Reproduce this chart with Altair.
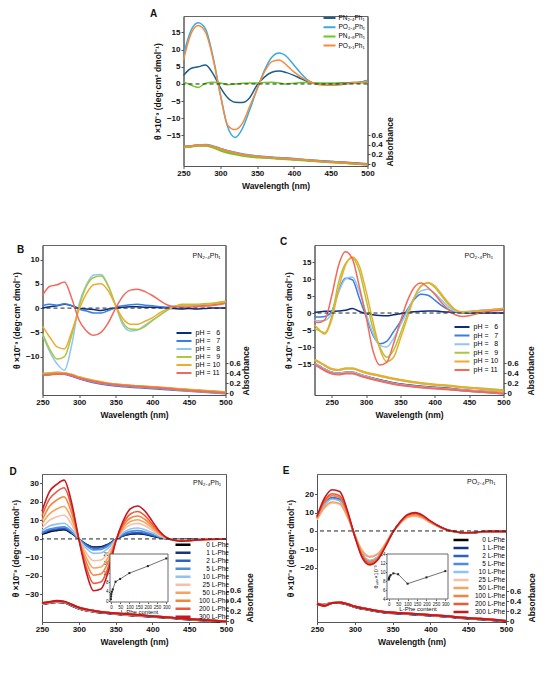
import altair as alt
import pandas as pd

FONT = "Liberation Sans"
FIG = "\u2007"

# ---------------- Panel A ----------------
A_W = [250, 260, 270, 280, 290, 300, 310, 320, 330, 340, 350, 360, 370, 380, 390, 400, 410, 420, 430, 440, 450, 460, 470, 480, 490, 500]
A_NAMES = ["PN₂.₄Ph₁", "PO₂.₄Ph₁", "PN₄.₈Ph₁", "PO₃.₁Ph₁"]
A_COLORS = ["#1b5e8c", "#35ade2", "#66cc22", "#f7893b"]
A_PN24 = [2.5, 4.5, 5.0, 5.5, 3.0, -1.0, -4.0, -5.3, -5.4, -4.0, -0.3, 2.0, 3.4, 3.8, 3.3, 2.5, 1.5, 0.6, 0.2, 0.1, 0.1, 0.2, 0.3, 0.4, 0.5, 1.0]
A_PO24 = [8.5, 15.5, 17.8, 16.0, 8.0, -3.0, -12.5, -15.6, -13.0, -7.5, -1.5, 4.0, 7.8, 9.0, 8.0, 5.5, 3.0, 1.0, 0.0, -0.2, -0.3, -0.2, 0.0, 0.3, 0.5, 1.0]
A_PN48 = [0.6, -0.3, -1.0, 0.2, 0.5, 0.3, -0.2, 0.0, 0.2, 0.3, 0.3, 0.4, 0.5, 0.3, 0.0, 0.2, 0.4, 0.4, 0.3, 0.2, 0.2, 0.2, 0.2, 0.2, 0.3, 0.4]
A_PO31 = [7.0, 14.5, 17.0, 15.0, 7.5, -3.0, -12.0, -13.3, -11.5, -6.5, -1.5, 3.5, 6.5, 7.0, 5.5, 3.5, 2.0, 0.8, 0.0, -0.3, -0.3, -0.2, 0.0, 0.3, 0.5, 0.8]

ABS_W = [250, 260, 270, 280, 290, 300, 320, 340, 360, 380, 400, 420, 440, 460, 480, 500]
A_ABS_PN24 = [0.36, 0.37, 0.39, 0.39, 0.36, 0.31, 0.23, 0.17, 0.14, 0.12, 0.10, 0.08, 0.06, 0.04, 0.02, 0.00]
A_ABS_PO24 = [0.36, 0.37, 0.39, 0.40, 0.37, 0.32, 0.24, 0.18, 0.15, 0.13, 0.11, 0.08, 0.06, 0.04, 0.01, -0.01]
A_ABS_PN48 = [0.35, 0.36, 0.38, 0.38, 0.34, 0.28, 0.20, 0.15, 0.13, 0.11, 0.09, 0.07, 0.05, 0.03, 0.01, -0.01]
A_ABS_PO31 = [0.36, 0.37, 0.39, 0.39, 0.36, 0.31, 0.23, 0.17, 0.14, 0.12, 0.10, 0.08, 0.05, 0.03, 0.01, -0.01]

# ---------------- Panels B / C ----------------
PH_NAMES = ["pH = " + FIG + "6", "pH = " + FIG + "7", "pH = " + FIG + "8", "pH = " + FIG + "9", "pH = 10", "pH = 11"]
PH_COLORS = ["#0a2d80", "#3a7ee0", "#8dc6f7", "#a9c93b", "#f0aa2e", "#f4695b"]

B_PH6 = [0.0, 0.3, 0.5, 0.8, 0.5, 0.0, -0.2, -0.3, -0.5, -0.2, 0.0, 0.2, 0.3, 0.3, 0.2, 0.2, 0.1, 0.0, -0.1, -0.2, -0.1, -0.2, -0.1, 0.0, 0.0, 0.0]
B_PH7 = [0.5, 0.8, 0.6, 0.9, 0.5, -0.2, -0.6, -1.0, -1.0, -0.5, 0.2, 0.5, 0.7, 0.8, 0.6, 0.5, 0.3, 0.2, 0.4, 0.5, 0.5, 0.6, 0.6, 0.7, 0.9, 1.0]
B_PH8 = [-5.5, -9.0, -11.5, -12.8, -7.5, 0.8, 4.8, 6.8, 6.9, 4.5, 0.5, -3.5, -4.7, -4.5, -3.5, -2.5, -1.5, -0.5, 0.3, 0.6, 0.7, 0.7, 0.8, 0.9, 1.1, 1.3]
B_PH9 = [-5.2, -8.5, -10.5, -10.0, -5.5, 0.3, 4.5, 6.3, 6.6, 4.5, 0.5, -3.0, -4.3, -4.4, -3.8, -2.6, -1.5, -0.4, 0.3, 0.8, 0.8, 0.8, 0.9, 1.0, 1.2, 1.4]
B_PH10 = [-3.7, -6.0, -8.0, -8.4, -4.8, -0.3, 3.0, 4.8, 5.0, 3.5, 0.5, -2.2, -3.3, -3.3, -2.7, -2.0, -1.0, -0.2, 0.3, 0.6, 0.6, 0.7, 0.7, 0.8, 1.0, 1.2]
B_PH11 = [2.6, 4.5, 4.8, 5.4, 2.0, -2.5, -4.7, -5.6, -5.0, -3.0, 0.0, 2.5, 3.7, 3.9, 3.4, 2.6, 1.6, 0.7, 0.3, 0.2, 0.2, 0.3, 0.4, 0.5, 0.7, 1.0]

B_ABS6 = [0.37, 0.38, 0.40, 0.39, 0.35, 0.30, 0.23, 0.18, 0.15, 0.13, 0.11, 0.09, 0.07, 0.05, 0.03, 0.01]
B_ABS7 = [0.36, 0.37, 0.39, 0.38, 0.34, 0.29, 0.21, 0.16, 0.13, 0.11, 0.09, 0.07, 0.05, 0.03, 0.01, -0.01]
B_ABS8 = [0.38, 0.39, 0.41, 0.40, 0.36, 0.31, 0.23, 0.18, 0.15, 0.13, 0.11, 0.09, 0.06, 0.04, 0.02, 0.00]
B_ABS9 = [0.39, 0.40, 0.41, 0.40, 0.37, 0.32, 0.25, 0.19, 0.16, 0.14, 0.12, 0.10, 0.08, 0.06, 0.04, 0.02]
B_ABS10 = [0.37, 0.38, 0.40, 0.39, 0.36, 0.31, 0.24, 0.19, 0.16, 0.14, 0.12, 0.10, 0.07, 0.05, 0.03, 0.01]
B_ABS11 = [0.36, 0.37, 0.38, 0.38, 0.35, 0.30, 0.23, 0.18, 0.15, 0.13, 0.11, 0.09, 0.06, 0.04, 0.02, 0.00]

C_W = [225, 230, 240, 250, 260, 270, 280, 290, 300, 310, 320, 330, 340, 350, 360, 370, 380, 390, 400, 410, 420, 430, 440, 450, 460, 470, 480, 490, 500]
C_PH6 = [0.2, 0.3, 0.5, 0.5, 0.6, 0.8, 1.3, 0.5, -0.2, -0.5, -0.7, -0.8, -0.5, -0.2, 0.2, 0.4, 0.5, 0.6, 0.6, 0.4, 0.3, 0.2, 0.1, 0.0, 0.0, 0.0, 0.0, 0.0, 0.0]
C_PH7 = [-1.0, -1.2, -1.0, 0.5, 6.5, 10.2, 9.8, 4.5, -1.0, -6.5, -9.0, -8.3, -5.5, -2.5, 1.0, 4.0, 5.5, 5.2, 3.8, 2.2, 1.0, 0.3, 0.2, 0.4, 0.6, 0.8, 0.9, 1.0, 1.2]
C_PH8 = [-2.0, -2.3, -2.2, 0.0, 6.0, 10.0, 10.6, 6.5, 0.0, -6.0, -9.5, -10.0, -7.5, -3.5, 0.5, 4.5, 6.5, 7.0, 5.8, 3.8, 1.8, 0.5, 0.4, 0.5, 0.7, 0.9, 1.0, 1.2, 1.4]
C_PH9 = [-4.5, -5.0, -5.8, -1.0, 9.0, 14.5, 16.2, 12.5, 4.0, -4.5, -10.0, -13.0, -11.0, -6.0, -0.5, 4.5, 7.8, 8.8, 7.5, 5.0, 2.5, 0.8, 0.3, 0.3, 0.5, 0.7, 0.9, 1.1, 1.3]
C_PH10 = [-3.5, -4.5, -6.2, -2.0, 7.0, 14.0, 16.5, 14.0, 6.5, -2.5, -10.5, -14.3, -13.0, -7.5, -1.5, 4.5, 8.0, 9.0, 8.0, 5.5, 3.0, 1.0, 0.3, 0.3, 0.5, 0.7, 0.9, 1.1, 1.3]
C_PH11 = [-2.5, -2.8, -2.0, 5.0, 14.0, 18.0, 16.0, 8.0, -1.0, -11.0, -15.3, -14.5, -9.0, -2.5, 3.5, 7.5, 8.8, 7.5, 5.5, 3.0, 1.0, -0.5, -1.0, -0.8, -0.3, 0.2, 0.5, 0.7, 0.9]

C_ABS_W = [225, 230, 240, 250, 260, 270, 280, 290, 300, 320, 340, 360, 380, 400, 420, 440, 460, 480, 500]
C_ABS6 = [0.58, 0.55, 0.47, 0.41, 0.39, 0.41, 0.41, 0.37, 0.33, 0.26, 0.20, 0.16, 0.13, 0.11, 0.09, 0.06, 0.04, 0.02, 0.00]
C_ABS7 = [0.57, 0.54, 0.46, 0.40, 0.38, 0.40, 0.40, 0.36, 0.32, 0.25, 0.19, 0.15, 0.12, 0.10, 0.08, 0.05, 0.03, 0.01, -0.01]
C_ABS8 = [0.58, 0.55, 0.47, 0.41, 0.39, 0.41, 0.41, 0.37, 0.33, 0.25, 0.19, 0.15, 0.12, 0.10, 0.08, 0.06, 0.04, 0.02, 0.00]
C_ABS9 = [0.66, 0.63, 0.55, 0.48, 0.46, 0.49, 0.49, 0.45, 0.41, 0.35, 0.29, 0.24, 0.20, 0.17, 0.15, 0.12, 0.10, 0.08, 0.06]
C_ABS10 = [0.66, 0.63, 0.55, 0.48, 0.46, 0.49, 0.49, 0.45, 0.40, 0.34, 0.28, 0.23, 0.19, 0.16, 0.14, 0.11, 0.09, 0.06, 0.04]
C_ABS11 = [0.57, 0.53, 0.45, 0.39, 0.37, 0.39, 0.39, 0.35, 0.31, 0.24, 0.18, 0.14, 0.11, 0.09, 0.07, 0.05, 0.03, 0.01, -0.01]

# ---------------- Panels D / E ----------------
PHE_NAMES = ["0 L-Phe", "1 L-Phe", "2 L-Phe", "5 L-Phe", "10 L-Phe", "25 L-Phe", "50 L-Phe", "100 L-Phe", "200 L-Phe", "300 L-Phe"]
PHE_COLORS = ["#000000", "#17357e", "#2a62c8", "#4b8de6", "#90c2f2", "#f6c0a6", "#f7a25e", "#f5853a", "#ec5a3c", "#c8181e"]

D_0 = [2.5, 3.8, 4.5, 5.0, 3.0, 0.0, -2.8, -4.4, -4.3, -2.8, -0.3, 1.6, 2.5, 2.8, 2.4, 1.5, 0.7, 0.1, -0.2, -0.3, -0.2, -0.2, -0.1, 0.0, 0.0, 0.0]
D_1 = [2.8, 4.3, 4.9, 5.3, 3.3, 0.0, -3.0, -4.7, -4.6, -3.0, -0.3, 1.7, 2.7, 3.0, 2.6, 1.7, 0.8, 0.1, -0.2, -0.3, -0.3, -0.2, -0.1, 0.0, 0.0, 0.0]
D_2 = [3.0, 4.7, 5.4, 5.8, 3.6, 0.0, -3.1, -4.9, -4.8, -3.1, -0.3, 1.9, 3.2, 3.5, 3.0, 1.9, 0.9, 0.1, -0.2, -0.3, -0.3, -0.2, -0.1, 0.0, 0.0, 0.0]
D_5 = [3.5, 5.3, 6.1, 6.5, 4.0, 0.0, -3.7, -5.9, -5.7, -3.7, -0.4, 2.5, 4.1, 4.5, 3.8, 2.5, 1.1, 0.1, -0.3, -0.4, -0.4, -0.3, -0.1, -0.1, 0.0, 0.0]
D_10 = [4.5, 7.0, 8.0, 8.5, 5.3, 0.0, -5.0, -7.8, -7.6, -5.0, -0.5, 3.3, 5.4, 5.9, 5.0, 3.3, 1.5, 0.2, -0.3, -0.5, -0.5, -0.3, -0.2, -0.1, 0.0, 0.0]
D_25 = [6.0, 10.0, 12.0, 12.8, 8.0, 0.0, -7.4, -11.8, -11.4, -7.4, -0.7, 4.6, 7.6, 8.4, 7.1, 4.6, 2.0, 0.2, -0.4, -0.7, -0.6, -0.4, -0.2, -0.1, -0.1, 0.0]
D_50 = [8.0, 13.5, 16.2, 17.5, 11.0, 0.0, -9.9, -15.7, -15.2, -9.9, -1.0, 5.7, 9.4, 10.4, 8.8, 5.7, 2.5, 0.3, -0.5, -0.8, -0.7, -0.4, -0.2, -0.2, -0.1, -0.1]
D_100 = [10.0, 17.5, 21.0, 22.8, 14.3, 0.0, -12.4, -19.6, -19.0, -12.4, -1.2, 6.8, 11.3, 12.4, 10.5, 6.8, 3.0, 0.4, -0.6, -0.9, -0.8, -0.5, -0.3, -0.2, -0.1, -0.1]
D_200 = [12.5, 21.5, 25.5, 27.7, 17.5, 0.0, -15.2, -24.0, -23.3, -15.2, -1.5, 8.0, 13.5, 14.8, 12.5, 8.0, 3.5, 0.5, -0.7, -1.0, -0.9, -0.5, -0.3, -0.2, -0.2, -0.2]
D_300 = [15.0, 25.5, 29.5, 31.8, 20.0, 0.0, -17.7, -28.0, -27.1, -17.7, -1.7, 9.5, 16.3, 17.8, 15.0, 9.5, 4.0, 0.5, -0.8, -1.2, -1.0, -0.6, -0.4, -0.3, -0.2, -0.2]

D_ABS0 = [0.34, 0.36, 0.38, 0.37, 0.31, 0.25, 0.19, 0.16, 0.13, 0.11, 0.09, 0.07, 0.05, 0.03, 0.01, -0.01]
D_ABS1 = [0.34, 0.36, 0.38, 0.37, 0.31, 0.25, 0.19, 0.16, 0.13, 0.11, 0.09, 0.07, 0.05, 0.03, 0.02, 0.00]
D_ABS2 = [0.35, 0.37, 0.38, 0.37, 0.32, 0.26, 0.20, 0.16, 0.14, 0.12, 0.10, 0.08, 0.06, 0.04, 0.02, 0.00]
D_ABS5 = [0.35, 0.37, 0.39, 0.38, 0.32, 0.26, 0.20, 0.17, 0.14, 0.12, 0.10, 0.08, 0.06, 0.04, 0.02, 0.00]
D_ABS10 = [0.35, 0.37, 0.39, 0.38, 0.32, 0.26, 0.20, 0.17, 0.14, 0.12, 0.10, 0.08, 0.06, 0.04, 0.02, 0.00]
D_ABS25 = [0.35, 0.37, 0.39, 0.38, 0.33, 0.26, 0.20, 0.17, 0.14, 0.12, 0.10, 0.08, 0.06, 0.04, 0.02, 0.00]
D_ABS50 = [0.35, 0.37, 0.39, 0.38, 0.33, 0.26, 0.21, 0.17, 0.14, 0.12, 0.10, 0.08, 0.06, 0.04, 0.02, 0.00]
D_ABS100 = [0.36, 0.37, 0.39, 0.38, 0.33, 0.27, 0.21, 0.17, 0.14, 0.12, 0.10, 0.08, 0.06, 0.04, 0.02, 0.00]
D_ABS200 = [0.36, 0.38, 0.39, 0.38, 0.33, 0.27, 0.21, 0.17, 0.15, 0.12, 0.10, 0.08, 0.06, 0.04, 0.02, 0.00]
D_ABS300 = [0.36, 0.38, 0.40, 0.39, 0.33, 0.27, 0.21, 0.17, 0.15, 0.13, 0.10, 0.08, 0.06, 0.04, 0.02, 0.00]

E_0 = [7.3, 14.6, 17.7, 16.8, 9.0, -2.5, -12.8, -16.4, -14.5, -8.1, -0.8, 4.4, 8.0, 8.9, 7.5, 4.8, 2.6, 0.8, -0.3, -1.0, -1.2, -0.9, -0.5, -0.4, -0.4, -0.4]
E_1 = [7.4, 14.8, 17.9, 17.0, 9.1, -2.5, -12.9, -16.6, -14.7, -8.2, -0.8, 4.5, 8.1, 9.0, 7.6, 4.9, 2.7, 0.9, -0.2, -0.9, -1.1, -0.8, -0.4, -0.3, -0.3, -0.3]
E_2 = [7.5, 15.1, 18.3, 17.4, 9.3, -2.6, -13.1, -16.8, -14.9, -8.3, -0.8, 4.5, 8.2, 9.1, 7.7, 5.0, 2.7, 0.9, -0.2, -0.8, -1.0, -0.7, -0.3, -0.2, -0.2, -0.3]
E_5 = [7.3, 14.7, 17.8, 16.9, 9.0, -2.5, -12.8, -16.5, -14.6, -8.2, -0.8, 4.5, 8.1, 9.0, 7.6, 4.9, 2.7, 0.9, -0.2, -0.8, -1.0, -0.7, -0.3, -0.2, -0.2, -0.3]
E_10 = [7.0, 14.3, 17.3, 16.4, 8.8, -2.4, -12.4, -16.0, -14.2, -8.0, -0.8, 4.4, 8.0, 8.8, 7.5, 4.8, 2.6, 0.9, -0.2, -0.8, -1.0, -0.7, -0.3, -0.2, -0.2, -0.3]
E_25 = [6.0, 12.6, 15.3, 14.6, 7.8, -2.2, -10.8, -13.8, -12.4, -7.1, -0.7, 4.0, 7.3, 8.1, 6.9, 4.4, 2.4, 0.8, -0.2, -0.7, -0.9, -0.6, -0.3, -0.2, -0.2, -0.3]
E_50 = [6.5, 13.0, 15.8, 15.0, 8.0, -2.2, -11.1, -14.3, -12.8, -7.3, -0.7, 4.2, 7.6, 8.4, 7.1, 4.6, 2.5, 0.8, -0.2, -0.7, -0.9, -0.6, -0.3, -0.2, -0.2, -0.3]
E_100 = [7.5, 15.8, 19.3, 18.3, 9.8, -2.6, -13.2, -17.0, -15.0, -8.3, -0.8, 4.6, 8.3, 9.2, 7.8, 5.0, 2.7, 0.9, -0.2, -0.8, -1.0, -0.7, -0.3, -0.2, -0.2, -0.3]
E_200 = [7.5, 16.5, 20.3, 19.2, 10.3, -2.7, -13.8, -17.8, -15.5, -8.5, -0.8, 4.8, 8.6, 9.5, 8.0, 5.2, 2.8, 0.9, -0.2, -0.8, -1.0, -0.7, -0.3, -0.2, -0.2, -0.3]
E_300 = [8.0, 18.0, 22.5, 21.5, 11.5, -3.0, -14.8, -18.5, -16.0, -9.0, -1.0, 5.0, 9.0, 10.0, 8.5, 5.5, 3.0, 1.0, -0.2, -0.8, -1.0, -0.7, -0.3, -0.2, -0.2, -0.3]

E_ABS0 = [0.33, 0.33, 0.36, 0.36, 0.33, 0.28, 0.22, 0.17, 0.15, 0.13, 0.11, 0.09, 0.06, 0.04, 0.02, -0.01]
E_ABS1 = [0.33, 0.33, 0.36, 0.36, 0.33, 0.28, 0.22, 0.17, 0.15, 0.13, 0.11, 0.09, 0.06, 0.04, 0.02, 0.00]
E_ABS2 = [0.33, 0.32, 0.36, 0.37, 0.34, 0.29, 0.22, 0.18, 0.15, 0.13, 0.11, 0.09, 0.07, 0.05, 0.02, 0.00]
E_ABS5 = [0.34, 0.33, 0.36, 0.37, 0.34, 0.29, 0.23, 0.18, 0.16, 0.14, 0.12, 0.09, 0.07, 0.05, 0.03, 0.00]
E_ABS10 = [0.34, 0.33, 0.36, 0.37, 0.34, 0.29, 0.23, 0.18, 0.16, 0.14, 0.12, 0.10, 0.07, 0.05, 0.03, 0.00]
E_ABS25 = [0.34, 0.32, 0.36, 0.37, 0.34, 0.29, 0.23, 0.18, 0.16, 0.14, 0.12, 0.10, 0.07, 0.05, 0.03, 0.00]
E_ABS50 = [0.34, 0.32, 0.36, 0.37, 0.34, 0.29, 0.23, 0.18, 0.16, 0.14, 0.12, 0.10, 0.07, 0.05, 0.03, 0.00]
E_ABS100 = [0.35, 0.32, 0.36, 0.37, 0.34, 0.29, 0.23, 0.18, 0.16, 0.14, 0.12, 0.10, 0.07, 0.05, 0.03, 0.00]
E_ABS200 = [0.35, 0.31, 0.36, 0.37, 0.34, 0.29, 0.23, 0.18, 0.16, 0.14, 0.12, 0.10, 0.07, 0.05, 0.03, 0.00]
E_ABS300 = [0.35, 0.30, 0.36, 0.37, 0.34, 0.29, 0.23, 0.18, 0.16, 0.14, 0.12, 0.10, 0.07, 0.05, 0.03, 0.00]

# Insets (θmax vs L-Phe content)
INSET_X = [0, 1, 2, 5, 10, 25, 50, 100, 200, 300]
INSET_X_TICKS = [0, 50, 100, 150, 200, 250, 300]
D_INSET_Y = [0.8, 2.0, 3.0, 4.0, 5.0, 8.3, 9.5, 12.0, 15.0, 18.3]
E_INSET_Y = [8.3, 8.5, 8.7, 9.0, 9.3, 9.7, 9.5, 7.4, 8.8, 10.2]

YT_ABC = "θ ×10⁻³ (deg·cm² dmol⁻¹)"
YT_DE = "θ ×10⁻³ (deg·cm²·dmol⁻¹)"


def long_df(xs, names, series, col):
    rows = []
    for n, ys in zip(names, series):
        for x, y in zip(xs, ys):
            rows.append({"w": x, col: y, "s": n})
    return pd.DataFrame(rows)


def text_layer(txt, x, y, size, weight, align="left"):
    return alt.Chart(pd.DataFrame({"t": [txt]})).mark_text(
        font=FONT, fontSize=size, fontWeight=weight, align=align, baseline="middle", color="#111"
    ).encode(x=alt.value(x), y=alt.value(y), text="t:N")


def make_inset(ys, xdom, ydom, xr, yr, yvals, h, ytitle=None):
    sx = alt.Scale(domain=xdom, range=xr, nice=False, zero=False)
    sy = alt.Scale(domain=ydom, range=yr, nice=False, zero=False)
    ax = alt.Axis(orient="bottom", offset=yr[0] - h, values=INSET_X_TICKS, format="d",
                  title="L-Phe content", labelFontSize=4.5, labelFontWeight="normal",
                  titleFontSize=6, titleFontWeight="normal", tickSize=1.5, labelPadding=0.5,
                  titlePadding=0, domain=False, labelFlush=False)
    ykw = dict(orient="left", offset=-xr[0], values=yvals, format="d", labelFontSize=4.5,
               labelFontWeight="normal", tickSize=1.5, labelPadding=0.5, domain=False)
    if ytitle:
        ykw.update(title=ytitle, titleFontSize=5.5, titleFontWeight="normal", titlePadding=1)
    else:
        ykw.update(title="")
    ay = alt.Axis(**ykw)
    fdf = pd.DataFrame({"c": [xdom[0]], "c2": [xdom[1]], "t": [ydom[0]], "t2": [ydom[1]]})
    frame = alt.Chart(fdf).mark_rect(fill="white", stroke="#444", strokeWidth=0.8).encode(
        x=alt.X("c:Q", scale=sx, axis=ax), x2="c2", y=alt.Y("t:Q", scale=sy, axis=ay), y2="t2")
    idf = pd.DataFrame({"c": INSET_X, "t": ys})
    line = alt.Chart(idf).mark_line(color="#333", strokeWidth=0.7).encode(
        x=alt.X("c:Q", scale=sx, axis=ax), y=alt.Y("t:Q", scale=sy, axis=ay))
    pts = alt.Chart(idf).mark_square(color="#222", size=4, opacity=1).encode(
        x=alt.X("c:Q", scale=sx, axis=ax), y=alt.Y("t:Q", scale=sy, axis=ay))
    return alt.layer(frame, line, pts)


def panel(letter, letter_xy, w, h, xdom, xvals, ydom, yvals, ytitle, adom, abs_tx,
          names, colors, cd_df, abs_df, leg, tag=None, tag_xy=None, inset=None,
          cd_sw=1.5, abs_sw=2.0):
    xs = alt.Scale(domain=xdom, nice=False, zero=False)
    xe = alt.X("w:Q", scale=xs, axis=alt.Axis(values=xvals, title="Wavelength (nm)", format="d",
                                                labelFlush=False))
    ye = alt.Y("v:Q", scale=alt.Scale(domain=ydom, nice=False, zero=False),
               axis=alt.Axis(values=yvals, title=ytitle, format="d"))
    ce = alt.Color("s:N", scale=alt.Scale(domain=names, range=colors),
                   legend=alt.Legend(title=None, orient="none", legendX=leg["x"], legendY=leg["y"],
                                     symbolType="stroke", symbolSize=leg["len"] ** 2,
                                     symbolStrokeWidth=leg["sw"], labelFontSize=leg["fs"],
                                     labelFont=FONT, labelFontWeight="normal",
                                     clipHeight=leg.get("ch", 8),
                                     rowPadding=leg["rp"], labelOffset=leg["lo"],
                                     labelAlign=leg.get("la", "left"), padding=0))
    lines = alt.Chart(cd_df).mark_line(interpolate="monotone", strokeWidth=cd_sw).encode(
        x=xe, y=ye, color=ce)
    zero = alt.Chart(pd.DataFrame({"v": [0.0]})).mark_rule(
        strokeDash=[4, 3], color="#222", strokeWidth=1).encode(y=ye)
    layers = [lines, zero, text_layer(letter, letter_xy[0], letter_xy[1], 10, "bold", "center")]
    if tag:
        layers.append(text_layer(tag, tag_xy[0], tag_xy[1], 7, "normal"))
    base = alt.layer(*layers)
    ae = alt.Y("a:Q", scale=alt.Scale(domain=adom, nice=False, zero=False),
               axis=alt.Axis(orient="right", values=[0, 0.2, 0.4, 0.6], format=".1~f",
                             title="Absorbance", titleAngle=270, titleAlign="left",
                             titleBaseline="middle", titleX=abs_tx, titleY=h))
    absl = alt.Chart(abs_df).mark_line(interpolate="monotone", strokeWidth=abs_sw).encode(
        x=xe, y=ae, color=ce)
    main = alt.layer(base, absl).resolve_scale(y="independent")
    if inset is not None:
        main = alt.layer(main, inset).resolve_scale(x="independent", y="independent")
    return main.properties(width=w, height=h)


# ---- build panels ----
A_cd = long_df(A_W, A_NAMES, [A_PN24, A_PO24, A_PN48, A_PO31], "v")
A_ab = long_df(ABS_W, A_NAMES, [A_ABS_PN24, A_ABS_PO24, A_ABS_PN48, A_ABS_PO31], "a")
panelA = panel("A", (-30, -2), 184, 150, [250, 500], [250, 300, 350, 400, 450, 500],
               [-23.9, 19.8], [-15, -10, -5, 0, 5, 10, 15], YT_ABC, [-0.04, 3.06], 22,
               A_NAMES, A_COLORS, A_cd, A_ab,
               dict(x=139, y=-2, len=12, sw=2, fs=6.5, rp=1.2, lo=2))

B_cd = long_df(A_W, PH_NAMES, [B_PH6, B_PH7, B_PH8, B_PH9, B_PH10, B_PH11], "v")
B_ab = long_df(ABS_W, PH_NAMES, [B_ABS6, B_ABS7, B_ABS8, B_ABS9, B_ABS10, B_ABS11], "a")
panelB = panel("B", (-22, 5), 183, 150, [250, 500], [250, 300, 350, 400, 450, 500],
               [-17.9, 13.0], [-10, -5, 0, 5, 10], YT_ABC, [-0.04, 2.96], 20,
               PH_NAMES, PH_COLORS, B_cd, B_ab,
               dict(x=133, y=84, len=15, sw=2, fs=7, rp=0, lo=3),
               tag="PN₂.₄Ph₁", tag_xy=(150, 11))

C_cd = long_df(C_W, PH_NAMES, [C_PH6, C_PH7, C_PH8, C_PH9, C_PH10, C_PH11], "v")
C_ab = long_df(C_ABS_W, PH_NAMES, [C_ABS6, C_ABS7, C_ABS8, C_ABS9, C_ABS10, C_ABS11], "a")
panelC = panel("C", (-31, -3), 189, 150, [225, 500], [250, 300, 350, 400, 450, 500],
               [-24.1, 20.0], [-15, -10, -5, 0, 5, 10, 15], YT_ABC, [-0.04, 2.96], 27,
               PH_NAMES, PH_COLORS, C_cd, C_ab,
               dict(x=139, y=78, len=15, sw=2, fs=7, rp=0.6, lo=3),
               tag="PO₂.₄Ph₁", tag_xy=(150, 11))

D_cd = long_df(A_W, PHE_NAMES, [D_0, D_1, D_2, D_5, D_10, D_25, D_50, D_100, D_200, D_300], "v")
D_ab = long_df(ABS_W, PHE_NAMES, [D_ABS0, D_ABS1, D_ABS2, D_ABS5, D_ABS10, D_ABS25, D_ABS50,
                                  D_ABS100, D_ABS200, D_ABS300], "a")
D_inset = make_inset(D_INSET_Y, [-5, 309], [-0.4, 20.2], [68, 126], [128, 80],
                     [0, 4, 8, 12, 16, 20], 148)
panelD = panel("D", (-29, -2), 184, 148, [250, 500], [250, 300, 350, 400, 450, 500],
               [-44.9, 35.1], [-30, -20, -10, 0, 10, 20, 30], YT_DE, [-0.01, 2.86], 23,
               PHE_NAMES, PHE_COLORS, D_cd, D_ab,
               dict(x=132, y=67, len=15, sw=2.5, fs=6.5, rp=0, lo=37, la="right", ch=7.7),
               tag="PN₂.₄Ph₁", tag_xy=(151, 9), inset=D_inset, cd_sw=1.6)

E_cd = long_df(A_W, PHE_NAMES, [E_0, E_1, E_2, E_5, E_10, E_25, E_50, E_100, E_200, E_300], "v")
E_ab = long_df(ABS_W, PHE_NAMES, [E_ABS0, E_ABS1, E_ABS2, E_ABS5, E_ABS10, E_ABS25, E_ABS50,
                                  E_ABS100, E_ABS200, E_ABS300], "a")
E_inset = make_inset(E_INSET_Y, [-9, 314], [4, 14], [70, 131], [125, 80],
                     [4, 6, 8, 10, 12, 14], 148, ytitle="θₘₐₓ×10⁻³")
panelE = panel("E", (-31, -3), 189, 148, [250, 500], [250, 300, 350, 400, 450, 500],
               [-49.7, 31.1], [-20, -10, 0, 10, 20], YT_DE, [-0.02, 2.94], 25,
               PHE_NAMES, PHE_COLORS, E_cd, E_ab,
               dict(x=135, y=62, len=15, sw=2.5, fs=6.5, rp=0, lo=35, la="right", ch=7.8),
               tag="PO₂.₄Ph₁", tag_xy=(150, 8), inset=E_inset, cd_sw=1.6)

rowBC = alt.hconcat(panelB, panelC, spacing=28).resolve_scale(
    x="independent", y="independent", color="independent")
rowDE = alt.hconcat(panelD, panelE, spacing=28).resolve_scale(
    x="independent", y="independent", color="independent")

chart = alt.vconcat(panelA, rowBC, rowDE, spacing=45, center=True).resolve_scale(
    x="independent", y="independent", color="independent"
).properties(padding=0).configure(font=FONT).configure_axis(
    labelFont=FONT, labelFontSize=8, labelFontWeight="bold", labelColor="#111",
    titleFont=FONT, titleFontSize=8.5, titleFontWeight="bold", titleColor="#111",
    grid=False, tickSize=2.5, tickColor="#555", domainColor="#555", labelPadding=1, titlePadding=4
).configure_view(stroke="#666", strokeWidth=1)

chart.save("out.html", embed_options={"renderer": "svg", "actions": False})
